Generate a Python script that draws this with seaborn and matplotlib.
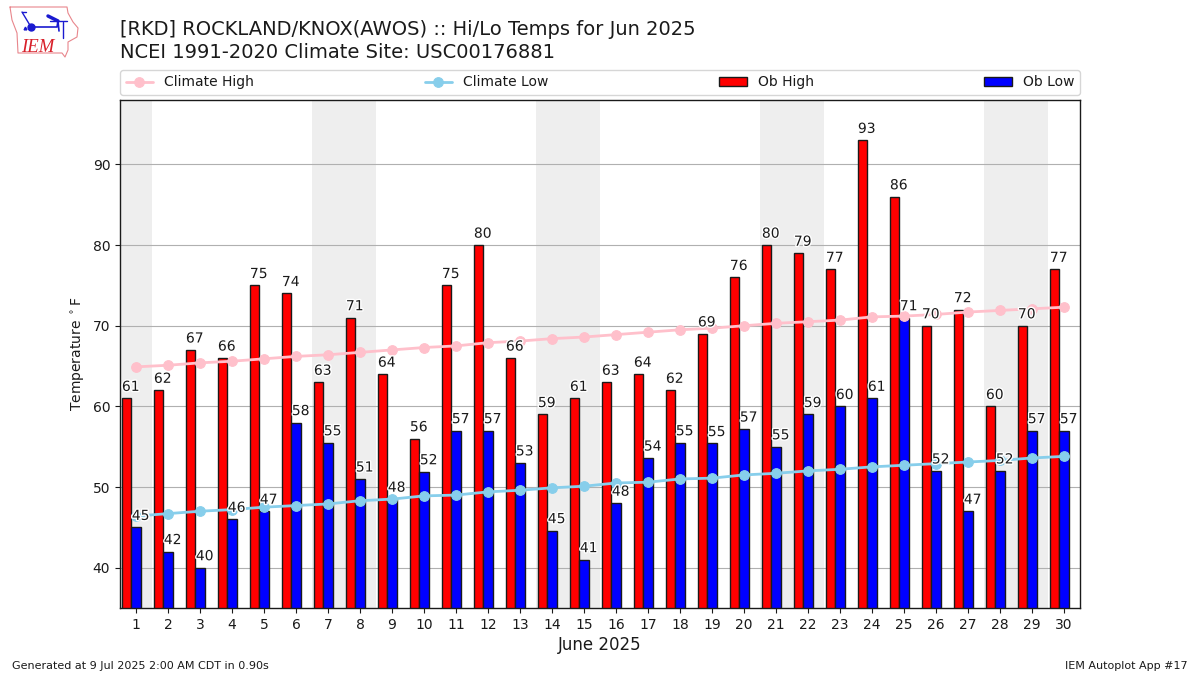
import numpy as np
import pandas as pd
import seaborn as sns
import matplotlib
matplotlib.use("Agg")
from matplotlib import pyplot as plt
from matplotlib import patheffects as pe

days = list(range(1, 31))
ob_high = [61, 62, 67, 66, 75, 74, 63, 71, 64, 56, 75, 80, 66, 59, 61,
           63, 64, 62, 69, 76, 80, 79, 77, 93, 86, 70, 72, 60, 70, 77]
ob_low = [45, 42, 40, 46, 47, 58, 55.5, 51, 48.5, 51.9, 57, 57, 53, 44.6, 41,
          48, 53.6, 55.5, 55.4, 57.2, 55, 59, 60, 61, 71, 52, 47, 52, 57, 57]
low_labels = [45, 42, 40, 46, 47, 58, 55, 51, 48, 52, 57, 57, 53, 45, 41,
              48, 54, 55, 55, 57, 55, 59, 60, 61, 71, 52, 47, 52, 57, 57]
climate_high = [64.9, 65.1, 65.4, 65.6, 65.9, 66.2, 66.4, 66.7, 67.0, 67.3,
                67.5, 67.9, 68.1, 68.4, 68.6, 68.9, 69.2, 69.5, 69.7, 70.0,
                70.3, 70.5, 70.7, 71.1, 71.2, 71.4, 71.7, 71.9, 72.1, 72.3]
climate_low = [46.4, 46.7, 47.0, 47.2, 47.5, 47.7, 47.9, 48.3, 48.5, 48.9,
               49.0, 49.4, 49.6, 49.9, 50.1, 50.5, 50.6, 51.0, 51.1, 51.5,
               51.7, 52.0, 52.2, 52.5, 52.7, 52.9, 53.1, 53.3, 53.6, 53.8]
weekend_spans = [(1, 1), (7, 8), (14, 15), (21, 22), (28, 29)]

# outline of the logo, in pixels of the figure
logo_x = [10, 67, 68, 73, 78, 77, 68, 68, 65, 62, 18, 17, 12, 10]
logo_y = [7, 7, 13, 22, 28, 37, 42, 50, 57, 53, 53, 33, 20, 7]

sns.set_theme(style="ticks", rc={"axes.linewidth": 1.0, "text.color": "k"})
fig = plt.figure(figsize=(12, 6.75), dpi=100)
ax = fig.add_axes([0.1, 0.0993, 0.8, 0.7526])

for start, stop in weekend_spans:
    ax.axvspan(start - 0.5, stop + 0.5, color="#eeeeee", lw=0, zorder=0)

# the bar pairs sit a little left of the day tick
df = pd.DataFrame({
    "day": [d - 0.15 for d in days] * 2,
    "temp": ob_high + ob_low,
    "kind": ["Ob High"] * 30 + ["Ob Low"] * 30,
})
sns.barplot(data=df, x="day", y="temp", hue="kind", native_scale=True,
            palette={"Ob High": "red", "Ob Low": "blue"}, width=0.6, gap=0,
            edgecolor="k", linewidth=1, saturation=1, errorbar=None, ax=ax,
            zorder=2)
sns.lineplot(x=days, y=climate_high, color="pink", marker="o", markersize=7,
             markeredgecolor="pink", lw=2, label="Climate High", ax=ax, zorder=3)
sns.lineplot(x=days, y=climate_low, color="skyblue", marker="o", markersize=7,
             markeredgecolor="skyblue", lw=2, label="Climate Low", ax=ax, zorder=3)

halo = [pe.withStroke(linewidth=2, foreground="white")]
for i, day in enumerate(days):
    ax.text(day - 0.44, ob_high[i] + 0.55, str(ob_high[i]), fontsize=10, color="k",
            ha="left", va="bottom", path_effects=halo, zorder=4)
    ax.text(day - 0.13, ob_low[i] + 0.55, str(low_labels[i]), fontsize=10, color="k",
            ha="left", va="bottom", path_effects=halo, zorder=4)

ax.set_xlim(0.5, 30.5)
ax.set_ylim(35, 98)
ax.set_xticks(days)
ax.set_xticklabels([str(d) for d in days])
ax.set_yticks(range(40, 100, 10))
ax.tick_params(axis="both", labelsize=10, length=3.5, width=0.8, color="k", labelcolor="k")
ax.grid(axis="y", color="#b0b0b0", lw=0.8)
ax.set_axisbelow(True)
for spine in ax.spines.values():
    spine.set_visible(True)
    spine.set_color("k")
ax.set_xlabel("June 2025", fontsize=12, color="k", labelpad=3)
ax.set_ylabel(r"Temperature $^\circ$F", fontsize=10, color="k")

handles, labels = ax.get_legend_handles_labels()
order = [labels.index(n) for n in ["Climate High", "Climate Low", "Ob High", "Ob Low"]]
ax.legend([handles[i] for i in order], [labels[i] for i in order], ncol=4,
          loc="lower left", bbox_to_anchor=(0, 1 + 5 / 508, 1, 0.05), mode="expand",
          borderaxespad=0, fontsize=10, frameon=True, labelcolor="k")

fig.text(120 / 1200, 1 - 62 / 675, "[RKD] ROCKLAND/KNOX(AWOS) :: Hi/Lo Temps for Jun 2025\n"
         "NCEI 1991-2020 Climate Site: USC00176881", fontsize=14, color="k",
         ha="left", va="bottom", linespacing=1.25)
fig.text(12 / 1200, 1 - 671 / 675, "Generated at 9 Jul 2025 2:00 AM CDT in 0.90s",
         fontsize=8, color="k", ha="left", va="bottom")
fig.text(1188 / 1200, 1 - 671 / 675, "IEM Autoplot App #17", fontsize=8, color="k",
         ha="right", va="bottom")

# logo, roughly
logo = fig.add_axes([0, 1 - 65 / 675, 90 / 1200, 65 / 675])
logo.set_xlim(0, 90)
logo.set_ylim(65, 0)
logo.axis("off")
logo.plot(logo_x, logo_y, color="#e8868c", lw=0.8)
logo.plot([31, 57, 58, 59], [27, 27, 21, 31], color="#1a1ad0", lw=1.2)
logo.plot([50, 67], [21, 21], color="#1a1ad0", lw=1)
logo.plot([48, 58], [16, 21], color="#1a1ad0", lw=2.5)
logo.plot([22, 31], [12, 27], color="#1a1ad0", lw=1)
logo.plot([22, 26], [12, 12], color="#1a1ad0", lw=1)
logo.plot([63, 63], [22, 38], color="#1a1ad0", lw=1)
logo.plot([31], [27], marker="o", color="#1a1ad0", ms=5)
logo.plot([25], [28], marker="^", color="#1a1ad0", ms=2)
logo.text(21, 52, "IEM", family="Liberation Serif", style="italic", fontsize=13.5,
          color="#d8202a", ha="left", va="baseline")

fig.savefig("out.png", dpi=100)
